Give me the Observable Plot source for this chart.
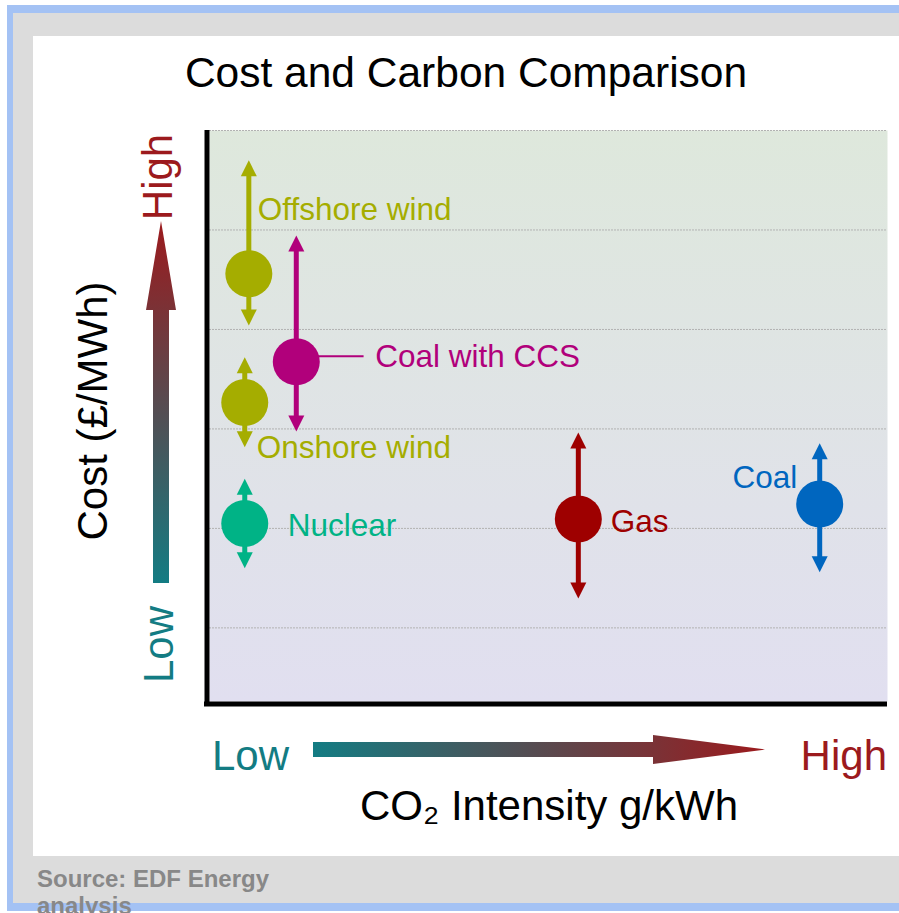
<!DOCTYPE html>
<html>
<head>
<meta charset="utf-8">
<script src="https://cdn.jsdelivr.net/npm/d3@7"></script>
<script src="https://cdn.jsdelivr.net/npm/@observablehq/plot@0.6"></script>
<style>
  html, body { margin: 0; padding: 0; background: #fff; overflow: hidden; width: 899px; height: 913px;
    font-family: "Liberation Sans", Arial, sans-serif; }
  #frame { position: absolute; left: 7px; top: 5px; width: 920px; height: 906px; background: #a4c2f4; }
  #panel { position: absolute; left: 13px; top: 13px; width: 920px; height: 890px; background: #dcdcdc; }
  #card { position: absolute; left: 33px; top: 36px; width: 866px; height: 820px; background: #fff; }
  #title { position: absolute; left: 33px; top: 36px; width: 866px; height: 74px; line-height: 74px;
    text-align: center; font-size: 42.5px; color: #000; }
  #chart { position: absolute; left: 33px; top: 110px; }
  #source { position: absolute; left: 37px; top: 865px; width: 260px; font-size: 24px; line-height: 27px;
    font-weight: bold; color: #888; z-index: 5; }
</style>
</head>
<body>
<div id="frame"></div>
<div id="panel"></div>
<div id="card"></div>
<div id="title">Cost and Carbon Comparison</div>
<div id="chart"></div>
<div id="source">Source: EDF Energy analysis</div>
<script>
// Generation technologies: CO2 intensity (g/kWh) against cost (£/MWh) with cost ranges
const technologies = ["Offshore wind", "Coal with CCS", "Onshore wind", "Nuclear", "Gas", "Coal"];
const co2Intensity = [58, 128, 52, 52, 544, 900];
const costMid = [91.2, 73.5, 65.3, 41, 41.9, 44.9];
const costLow = [80.8, 59.5, 56.3, 32, 25.9, 31.2];
const costHigh = [114, 98.9, 74.4, 50, 59.3, 57.1];
const techColors = ["#a5ad00", "#b1007b", "#a5ad00", "#00b386", "#9e0000", "#0066bf"];

// Unlabelled cost gridlines and the qualitative axis ends
const costGrid = [20, 40, 60, 80, 100, 120];
const costDomain = [5.2, 120];
const co2Domain = [0, 1000];
const axisEnds = ["Low", "High"];
const xTitle = "CO₂ Intensity g/kWh";
const yTitle = "Cost (£/MWh)";

const rows = technologies.map((name, i) => ({
  name, co2: co2Intensity[i], mid: costMid[i], low: costLow[i], high: costHigh[i], color: techColors[i]
}));

// Label placement relative to each technology's marker (pixels)
const labelPlacement = {
  "Offshore wind": {dx: 9, dy: -64, anchor: "start"},
  "Coal with CCS": {dx: 79, dy: -4.5, anchor: "start"},
  "Onshore wind": {dx: 12, dy: 45, anchor: "start"},
  "Nuclear": {dx: 43, dy: 2, anchor: "start"},
  "Gas": {dx: 32.5, dy: 3, anchor: "start"},
  "Coal": {dx: -22.5, dy: -26, anchor: "end"}
};

// Filled arrowheads whose tip sits on the anchor point
const headUp = {draw(ctx) { ctx.moveTo(0, 0); ctx.lineTo(8, 16); ctx.lineTo(-8, 16); ctx.closePath(); }};
const headDown = {draw(ctx) { ctx.moveTo(0, 0); ctx.lineTo(8, -16); ctx.lineTo(-8, -16); ctx.closePath(); }};

const fontFamily = '"Liberation Sans", Arial, sans-serif';

const chart = Plot.plot({
  width: 866,
  height: 746,
  marginLeft: 176,
  marginRight: 12,
  marginTop: 20,
  marginBottom: 155,
  x: {domain: co2Domain, axis: null},
  y: {domain: costDomain, axis: null},
  color: {type: "identity"},
  style: {fontFamily, fontSize: "31px", background: "transparent", overflow: "visible"},
  marks: [
    Plot.frame({fill: "url(#plotBg)", stroke: "none"}),
    Plot.ruleY(costGrid, {stroke: "#b2b2b2", strokeWidth: 1, strokeDasharray: "2 1"}),
    Plot.ruleX([co2Domain[0]], {dx: -2.5, stroke: "#000", strokeWidth: 5, insetBottom: -5}),
    Plot.ruleY([costDomain[0]], {dy: 2.5, stroke: "#000", strokeWidth: 5, insetLeft: -5}),
    // cost range shafts and heads
    Plot.ruleX(rows, {x: "co2", y1: "high", y2: "low", stroke: "color", strokeWidth: 5, insetTop: 8, insetBottom: 8}),
    Plot.dot(rows, {x: "co2", y: "high", symbol: headUp, fill: "color", stroke: "none"}),
    Plot.dot(rows, {x: "co2", y: "low", symbol: headDown, fill: "color", stroke: "none"}),
    // leader line for Coal with CCS
    Plot.ruleY(rows.filter(d => d.name === "Coal with CCS"), {
      y: "mid", x1: "co2", x2: d => d.co2 + 100, dy: -5.5, stroke: "color", strokeWidth: 2
    }),
    Plot.dot(rows, {x: "co2", y: "mid", r: 23.5, fill: "color", stroke: "none"}),
    ...rows.map(d => {
      const p = labelPlacement[d.name];
      return Plot.text([d], {
        x: "co2", y: "mid", text: "name", fill: "color",
        dx: p.dx, dy: p.dy, textAnchor: p.anchor, fontSize: 31.5
      });
    })
  ]
});

// Gradients and axis decorations
const svg = d3.select(chart);
const defs = svg.insert("defs", ":first-child");

const bg = defs.append("linearGradient").attr("id", "plotBg")
  .attr("x1", 0).attr("y1", 0).attr("x2", 0).attr("y2", 1);
bg.append("stop").attr("offset", "0%").attr("stop-color", "#dee8dc");
bg.append("stop").attr("offset", "100%").attr("stop-color", "#e1dff0");

const teal = "#137c83";
const red = "#9c1a1d";

const vGrad = defs.append("linearGradient").attr("id", "costArrow")
  .attr("gradientUnits", "userSpaceOnUse")
  .attr("x1", 0).attr("y1", 473).attr("x2", 0).attr("y2", 111);
vGrad.append("stop").attr("offset", "0%").attr("stop-color", teal);
vGrad.append("stop").attr("offset", "100%").attr("stop-color", red);

const hGrad = defs.append("linearGradient").attr("id", "co2Arrow")
  .attr("gradientUnits", "userSpaceOnUse")
  .attr("x1", 280).attr("y1", 0).attr("x2", 732).attr("y2", 0);
hGrad.append("stop").attr("offset", "0%").attr("stop-color", teal);
hGrad.append("stop").attr("offset", "100%").attr("stop-color", red);

const deco = svg.append("g").attr("font-family", fontFamily).attr("font-size", 42);

deco.append("path")
  .attr("d", "M120,473H136V200H143L128,111L113,200H120Z")
  .attr("fill", "url(#costArrow)");
deco.append("path")
  .attr("d", "M280,632H620V625L732,639.5L620,654V647H280Z")
  .attr("fill", "url(#co2Arrow)");

// vertical axis: Low / High and title, reading upward
deco.append("text").attr("transform", "translate(140,534.5) rotate(-90)")
  .attr("text-anchor", "middle").attr("fill", teal).text(axisEnds[0]);
deco.append("text").attr("transform", "translate(139,67) rotate(-90)")
  .attr("text-anchor", "middle").attr("fill", red).text(axisEnds[1]);
deco.append("text").attr("transform", "translate(74,301) rotate(-90)")
  .attr("text-anchor", "middle").attr("fill", "#000").text(yTitle);

// horizontal axis: Low / High and title
deco.append("text").attr("x", 179).attr("y", 660)
  .attr("text-anchor", "start").attr("fill", teal).text(axisEnds[0]);
deco.append("text").attr("x", 854).attr("y", 660)
  .attr("text-anchor", "end").attr("fill", red).text(axisEnds[1]);
deco.append("text").attr("x", 516).attr("y", 710)
  .attr("text-anchor", "middle").attr("fill", "#000").text(xTitle);

document.getElementById("chart").appendChild(chart);
</script>
</body>
</html>
